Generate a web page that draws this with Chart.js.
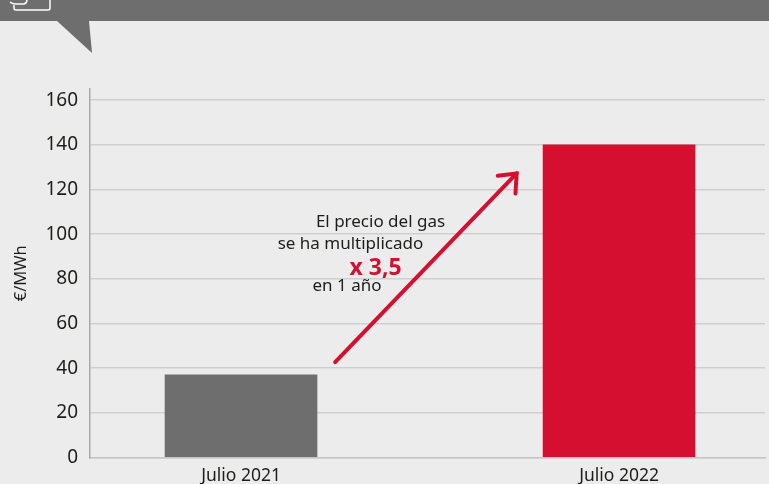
<!DOCTYPE html>
<html>
<head>
<meta charset="utf-8">
<style>
  html, body { margin: 0; padding: 0; background: #ececec; }
  canvas { display: block; }
</style>
<script src="https://cdn.jsdelivr.net/npm/chart.js@4"></script>
</head>
<body>
<canvas id="myChart" width="769" height="484"></canvas>
<script>
const categories = ['Julio 2021', 'Julio 2022'];
const values = [37, 140];
const barColors = ['#6e6e6e', '#d50f2f'];
const yTickStep = 20;

// arrow, in axis units (x: 1 = first bar, 2 = second bar)
const arrowX = [1.249, 1.729];
const arrowY = [42.7, 127.2];
const arrowHeadX = [1.679, 1.729, 1.726];
const arrowHeadY = [126.2, 127.2, 118.2];

// note next to the arrow: text, x, y in axis units
const noteText = ['El precio del gas', 'se ha multiplicado', 'x 3,5', 'en 1 año'];
const noteX = [1.198, 1.097, 1.287, 1.189];
const noteY = [105.3, 95.6, 84.6, 76.8];

const RED = '#d50f2f';
const FONT = '"Noto Sans", sans-serif';

const pagePlugin = {
    id: 'page',
    beforeDraw(chart) {
        const c = chart.ctx;
        c.save();
        c.fillStyle = '#ececec';
        c.fillRect(0, 0, chart.width, chart.height);
        // header band, cut by the top of the picture
        c.fillStyle = '#6e6e6e';
        c.fillRect(0, 0, chart.width, 21);
        c.beginPath();
        c.moveTo(57, 21);
        c.lineTo(89, 21);
        c.lineTo(92, 53);
        c.closePath();
        c.fill();
        c.strokeStyle = '#fff';
        c.lineWidth = 1.5;
        c.beginPath();
        c.moveTo(50, 0);
        c.lineTo(50, 8);
        c.quadraticCurveTo(50, 10, 48, 10);
        c.lineTo(16, 10);
        c.quadraticCurveTo(14, 10, 14, 8);
        c.lineTo(14, 5);
        c.stroke();
        c.beginPath();
        c.moveTo(10, 2);
        c.quadraticCurveTo(12, 4, 16, 4);
        c.lineTo(24, 4);
        c.quadraticCurveTo(27, 3, 27, 0);
        c.stroke();
        c.restore();
    },
    afterDraw(chart) {
        const c = chart.ctx;
        c.save();
        c.textAlign = 'left';
        c.textBaseline = 'middle';
        noteText.forEach((t, i) => {
            const big = t.startsWith('x ');
            c.fillStyle = big ? RED : '#1d1d1b';
            c.font = (big ? 'bold 23px ' : '17px ') + FONT;
            c.fillText(t, chart.scales.x.getPixelForValue(noteX[i]), chart.scales.y.getPixelForValue(noteY[i]));
        });
        c.restore();
    }
};

new Chart(document.getElementById('myChart').getContext('2d'), {
    type: 'bar',
    data: {
        datasets: [
            {
                type: 'line',
                data: arrowX.map((x, i) => ({ x: x, y: arrowY[i] })),
                borderColor: RED,
                borderWidth: 4,
                borderCapStyle: 'round',
                pointRadius: 0,
                order: 0
            },
            {
                type: 'line',
                data: arrowHeadX.map((x, i) => ({ x: x, y: arrowHeadY[i] })),
                borderColor: RED,
                borderWidth: 4,
                borderCapStyle: 'round',
                borderJoinStyle: 'miter',
                pointRadius: 0,
                order: 0
            },
            {
                data: values.map((v, i) => ({ x: i + 1, y: v })),
                backgroundColor: barColors,
                barThickness: 152,
                order: 1
            }
        ]
    },
    options: {
        responsive: false,
        animation: false,
        layout: { padding: { top: 89, right: 4 } },
        plugins: { legend: { display: false }, tooltip: { enabled: false } },
        scales: {
            x: {
                type: 'linear',
                offset: false,
                min: 0.6005,
                max: 2.386,
                afterBuildTicks(scale) {
                    scale.ticks = categories.map((c, i) => ({ value: i + 1 }));
                },
                afterFit(scale) { scale.height = 26.5; },
                grid: { display: false, drawTicks: false, offset: false },
                border: { color: '#c6c6c6', width: 1.5 },
                ticks: {
                    autoSkip: false,
                    maxRotation: 0,
                    padding: 8,
                    color: '#1d1d1b',
                    font: { family: FONT, size: 17.5 },
                    callback: (v) => categories[v - 1]
                }
            },
            y: {
                min: 0,
                max: 165,
                afterFit(scale) { scale.width = 90; },
                grid: { color: '#cfcfcf', lineWidth: 1.5, drawTicks: false },
                border: { color: '#aaaaaa', width: 1.5 },
                title: {
                    display: true,
                    text: '€/MWh',
                    color: '#1d1d1b',
                    font: { family: FONT, size: 16.5 },
                    padding: { top: 11, bottom: 0 }
                },
                ticks: {
                    stepSize: yTickStep,
                    includeBounds: false,
                    padding: 12,
                    color: '#1d1d1b',
                    font: { family: FONT, size: 19 }
                }
            }
        }
    },
    plugins: [pagePlugin]
});
</script>
</body>
</html>
